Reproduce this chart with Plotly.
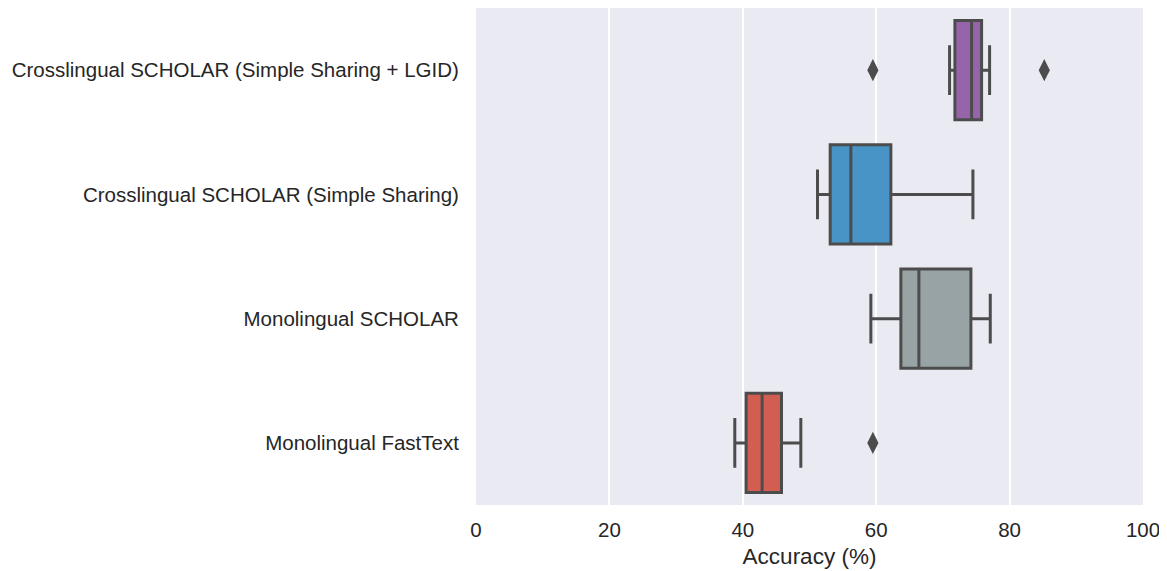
import plotly.graph_objects as go

categories = [
    "Crosslingual SCHOLAR (Simple Sharing + LGID)",
    "Crosslingual SCHOLAR (Simple Sharing)",
    "Monolingual SCHOLAR",
    "Monolingual FastText",
]
q1 = [71.8, 53.1, 63.7, 40.5]
median = [74.3, 56.2, 66.4, 42.9]
q3 = [75.8, 62.2, 74.2, 45.8]
lowerfence = [71.0, 51.2, 59.2, 38.8]
upperfence = [77.0, 74.5, 77.1, 48.7]
outlier_cats = [categories[0], categories[0], categories[3]]
outlier_vals = [59.5, 85.2, 59.5]
colors = ["#9664aa", "#4994c6", "#97a3a4", "#d25e52"]

line_color = "#4c4c4c"
font_family = "Liberation Sans, Arial, sans-serif"

fig = go.Figure()
for i, cat in enumerate(categories):
    fig.add_trace(go.Box(
        y=[cat], q1=[q1[i]], median=[median[i]], q3=[q3[i]],
        lowerfence=[lowerfence[i]], upperfence=[upperfence[i]],
        orientation="h", fillcolor=colors[i],
        line=dict(color=line_color, width=3),
        width=0.8, whiskerwidth=0.5, boxpoints=False,
        showlegend=False, hoverinfo="skip",
    ))

fig.add_trace(go.Scatter(
    x=outlier_vals, y=outlier_cats, mode="markers",
    marker=dict(symbol="diamond-tall", size=16, color=line_color,
                line=dict(width=0)),
    showlegend=False, hoverinfo="skip",
))

fig.update_layout(
    width=1159, height=563,
    margin=dict(l=468, r=24, t=0, b=66),
    paper_bgcolor="white", plot_bgcolor="#eaeaf2",
    boxmode="overlay",
    font=dict(family=font_family, size=20.5, color="#262626"),
    xaxis=dict(
        range=[0, 100], tickvals=[0, 20, 40, 60, 80, 100],
        showgrid=True, gridcolor="white", gridwidth=1.5,
        zeroline=False, showline=False,
        ticks="outside", ticklen=6, tickcolor="rgba(0,0,0,0)",
        title=dict(text="Accuracy (%)", font=dict(size=22.5), standoff=8),
        tickfont=dict(size=20.5),
    ),
    yaxis=dict(
        categoryorder="array", categoryarray=categories,
        range=[3.5, -0.5], autorange=False,
        showgrid=False, zeroline=False,
        ticks="outside", ticklen=12, tickcolor="rgba(0,0,0,0)",
        tickfont=dict(size=20.5),
    ),
)

fig.write_html("out.html")
